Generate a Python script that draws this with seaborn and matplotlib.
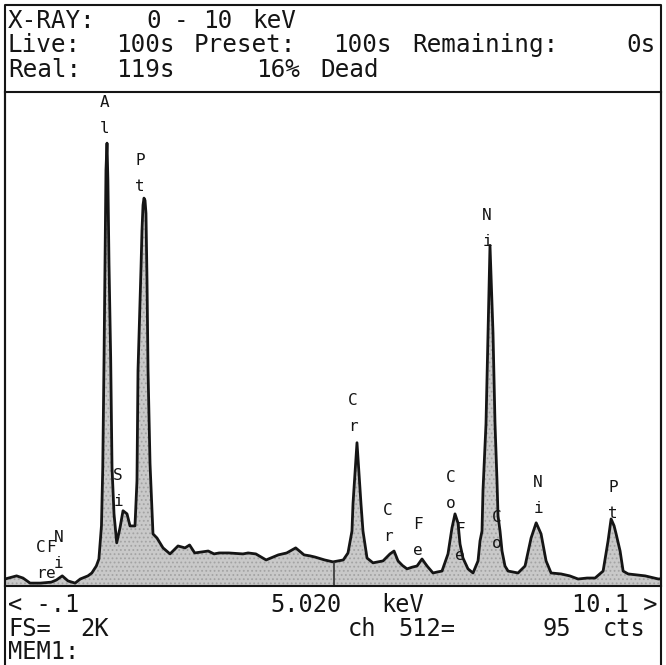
"""EDS spectrum screen (0-10 keV) redrawn with seaborn."""

import matplotlib

matplotlib.use("Agg")
import matplotlib.pyplot as plt
import pandas as pd
import seaborn as sns
from matplotlib.lines import Line2D

W, H = 666, 665

# spectrum: energy (keV) and counts, full scale 2K
energy_kev = [
    -0.10, 0.08, 0.18, 0.29, 0.45, 0.62, 0.70, 0.79, 0.88, 0.99,
    1.07, 1.19, 1.25, 1.32, 1.36, 1.40, 1.42, 1.44, 1.455, 1.47,
    1.486, 1.50, 1.517, 1.543, 1.564, 1.595, 1.637, 1.688, 1.735, 1.797,
    1.844, 1.921, 1.952, 1.968, 2.015, 2.03, 2.046, 2.061, 2.077, 2.092,
    2.108, 2.124, 2.155, 2.201, 2.263, 2.357, 2.466, 2.59, 2.699, 2.77,
    2.85, 2.95, 3.06, 3.15, 3.23, 3.38, 3.60, 3.68, 3.80, 3.96,
    4.15, 4.28, 4.42, 4.55, 4.64, 4.72, 4.87, 5.00, 5.16, 5.233,
    5.295, 5.311, 5.342, 5.373, 5.404, 5.435, 5.466, 5.529,
    5.622, 5.70, 5.778, 5.886, 5.949, 6.011, 6.08, 6.151, 6.23, 6.307,
    6.384, 6.462, 6.555, 6.62, 6.695, 6.788, 6.85, 6.897, 6.944, 6.975,
    7.021, 7.099, 7.177, 7.255, 7.286, 7.317, 7.332, 7.379, 7.41, 7.441,
    7.488, 7.519, 7.55, 7.566, 7.597, 7.628, 7.674, 7.722, 7.80, 7.877,
    7.986, 8.08, 8.159, 8.235, 8.313, 8.391, 8.546, 8.68, 8.811, 8.95,
    9.075, 9.20, 9.277, 9.324, 9.37, 9.402, 9.464, 9.511, 9.589, 9.72,
    9.853, 10.06, 10.10,
]
counts = [
    29, 42, 33, 12, 12, 16, 25, 42, 21, 12,
    29, 42, 54, 83, 112, 250, 490, 947, 1338, 1724,
    1836, 1682, 1338, 947, 490, 299, 179, 241, 312, 299,
    249, 249, 436, 893, 1321, 1475, 1579, 1608, 1599, 1545,
    1267, 893, 507, 216, 199, 158, 133, 166, 158, 170,
    137, 141, 145, 133, 137, 137, 133, 137, 133, 108,
    129, 137, 158, 129, 125, 120, 108, 100, 108, 137,
    228, 341, 465, 594, 465, 341, 228, 116,
    96, 100, 104, 133, 145, 104, 85, 71, 78, 83,
    112, 83, 54, 58, 62, 133, 241, 299, 261, 174,
    116, 71, 54, 104, 187, 228, 395, 673, 1047, 1412,
    1047, 673, 436, 291, 228, 145, 83, 62, 58, 54,
    83, 199, 262, 216, 104, 54, 50, 42, 29, 33,
    33, 62, 187, 278, 250, 216, 145, 62, 50, 46,
    42, 29, 30,
]

# element markers (name, energy of the marker, counts at the top of the marker)
label_names = ["Cr", "Fe", "Ni", "Al", "Si", "Pt", "Cr", "Cr", "Fe", "Co",
               "Fe", "Ni", "Co", "Ni", "Pt"]
label_kev = [0.46, 0.615, 0.735, 1.455, 1.657, 1.999, 5.311, 5.855, 6.322,
             6.835, 6.975, 7.395, 7.55, 8.188, 9.354]
label_top = [191, 191, 232, 2036, 489, 1795, 800, 344, 286, 481, 265, 1567,
             315, 460, 440]

cursor_kev = 5.020
full_scale = 2048

header_texts = [
    ["X-RAY:", "0", "-", "10", "keV"],
    ["Live:", "100s", "Preset:", "100s", "Remaining:", "0s"],
    ["Real:", "119s", "16%", "Dead"],
]
footer_texts = [
    ["< -.1", "5.020", "keV", "10.1 >"],
    ["FS=", "2K", "ch", "512=", "95", "cts"],
    ["MEM1:"],
]

header_x = [[8, 146, 174, 203, 252], [8, 116, 194, 333, 412, 626], [8, 116, 256, 320]]
header_y = [28, 52, 77]
footer_x = [[8, 270, 381, 657], [8, 80, 348, 398, 543, 603], [8]]
footer_y = [612, 636, 659]

MONO = "DejaVu Sans Mono"
INK = "#151515"


def fx(x):
    return x / W


def fy(y):
    return 1 - y / H


sns.set_style("white")
plt.rcParams["font.family"] = [MONO, "DejaVu Sans"]
plt.rcParams["hatch.linewidth"] = 0.8

fig = plt.figure(figsize=(W / 100, H / 100), dpi=100)
fig.patch.set_facecolor("white")

left, right, top, bottom = 5, 661, 92, 586
ax = fig.add_axes([fx(left), fy(bottom), (right - left) / W, (bottom - top) / H])

df = pd.DataFrame({"energy": energy_kev, "counts": counts})
ax.fill_between(df["energy"], df["counts"], 0, facecolor="#c9c9c9",
                hatch="....", edgecolor="#a3a3a3", linewidth=0)
sns.lineplot(data=df, x="energy", y="counts", ax=ax, color=INK, linewidth=2,
             sort=False)

# cursor
cursor_counts = df.loc[(df["energy"] - cursor_kev).abs().idxmin(), "counts"]
ax.vlines(cursor_kev, 0, cursor_counts, color="#333333", linewidth=1.2)

ax.set_xlim(-0.1, 10.1)
ax.set_ylim(0, full_scale)
ax.set_xticks([])
ax.set_yticks([])
ax.set_xlabel("")
ax.set_ylabel("")
for sp in ax.spines.values():
    sp.set_visible(True)
    sp.set_color(INK)
    sp.set_linewidth(1.5)

# element markers: letters stacked vertically
step = 26 / (bottom - top) * full_scale
for name, e, c in zip(label_names, label_kev, label_top):
    for i, ch in enumerate(name):
        ax.text(e, c - i * step, ch, ha="center", va="top", fontsize=11.5,
                color=INK, family=MONO)

# outer frame (bottom edge sits just below the picture)
frame = [(5, 664.5), (5, 5), (661, 5), (661, 664.5)]
fig.add_artist(Line2D([fx(p[0]) for p in frame], [fy(p[1]) for p in frame],
                      color=INK, linewidth=1.5, transform=fig.transFigure))

for row, xs, y in zip(header_texts, header_x, header_y):
    for t, x in zip(row, xs):
        fig.text(fx(x), fy(y), t, ha="left", va="baseline", fontsize=17.5,
                 color=INK, family=MONO)

for r, (row, xs, y) in enumerate(zip(footer_texts, footer_x, footer_y)):
    for j, (t, x) in enumerate(zip(row, xs)):
        ha = "right" if (r == 0 and j == 3) else "left"
        fig.text(fx(x), fy(y), t, ha=ha, va="baseline", fontsize=17,
                 color=INK, family=MONO)

fig.savefig("out.png", dpi=100)
